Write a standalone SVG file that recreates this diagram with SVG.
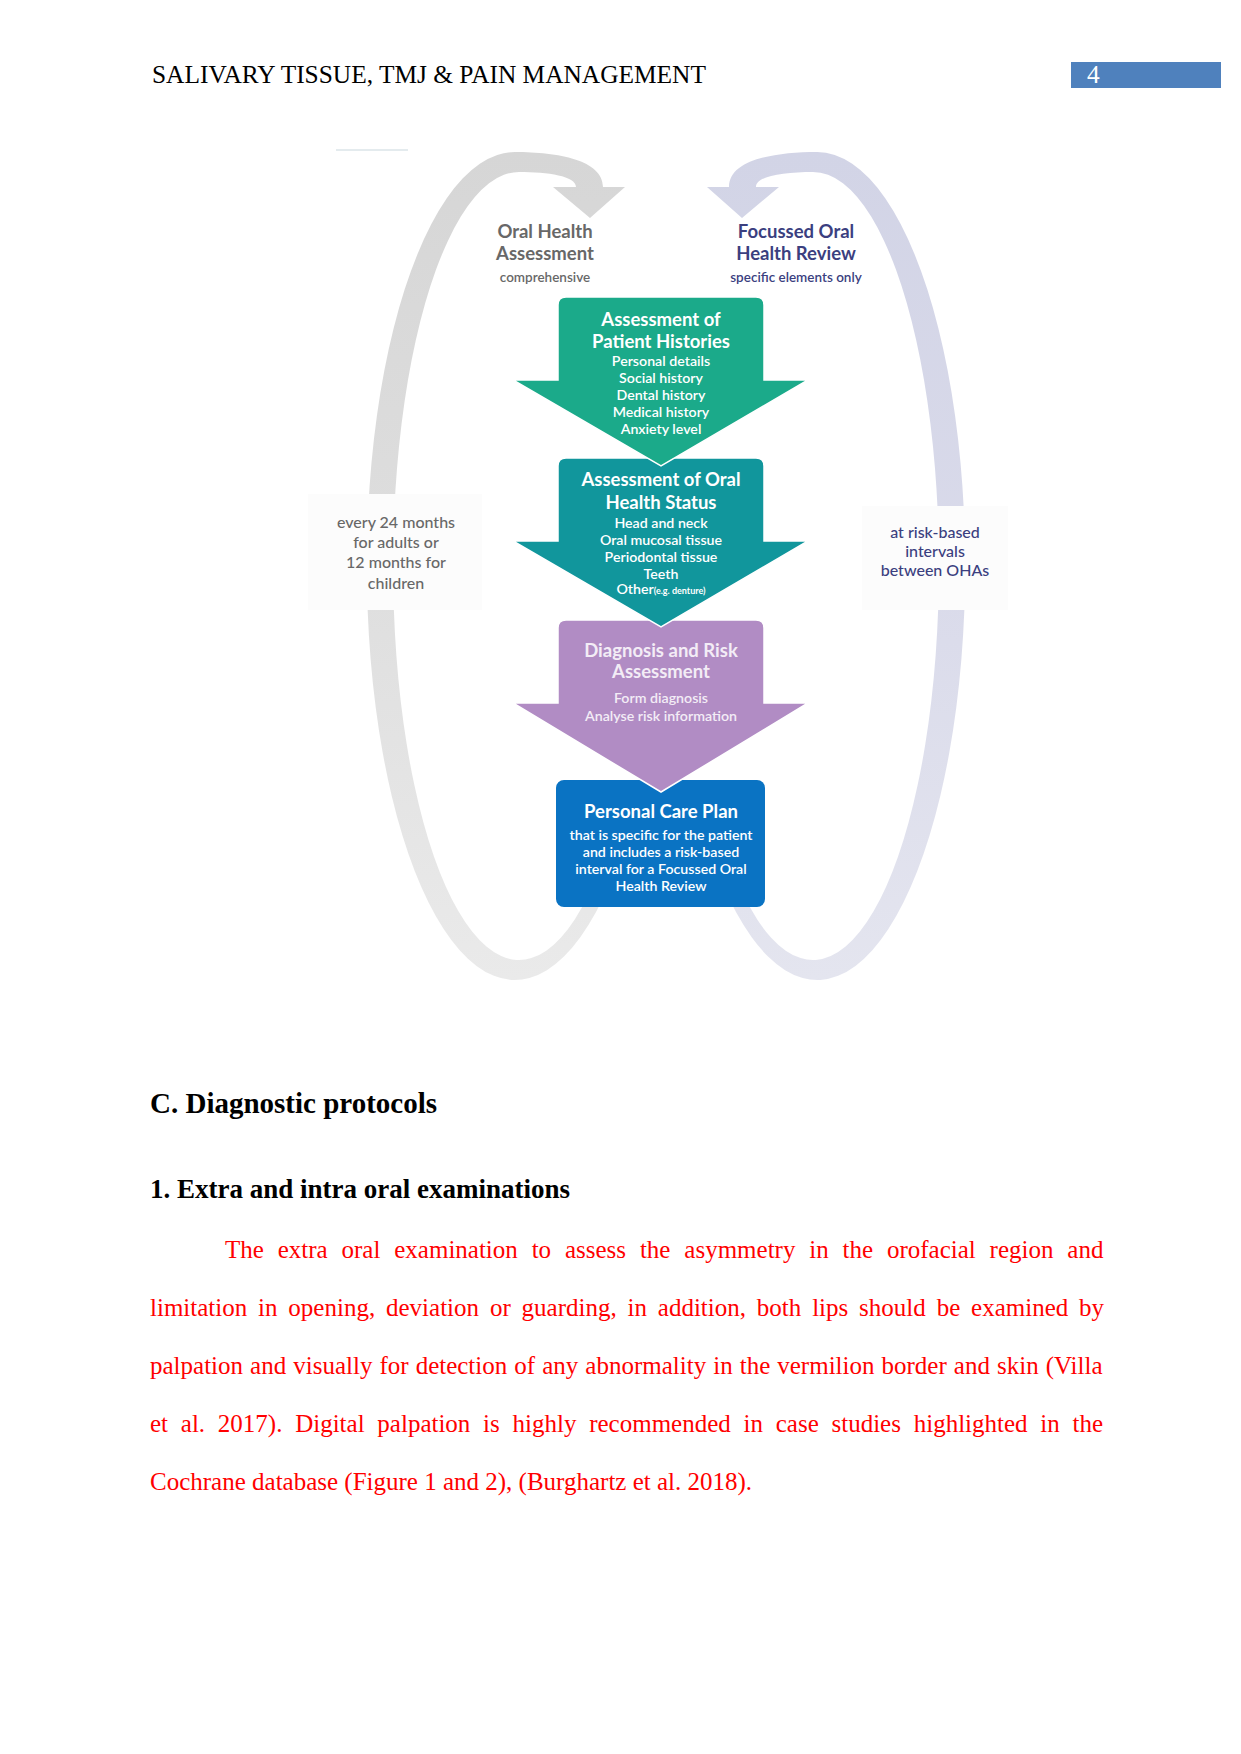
<svg xmlns="http://www.w3.org/2000/svg" xmlns:xlink="http://www.w3.org/1999/xlink" width="1241" height="1754" viewBox="0 0 1241 1754">
<style>
  .serif { font-family: "Liberation Serif", "Times New Roman", serif; }
  .hdr { font-size: 25.4px; fill: #000; }
  .h1 { font-size: 29px; font-weight: bold; fill: #000; }
  .h2 { font-size: 27px; font-weight: bold; fill: #000; }
  .body { font-size: 25px; fill: #FF0000; }
  .dg { font-family: Lato, "Liberation Sans", Arial, sans-serif; text-anchor: middle; }
  .t { font-size: 18.5px; font-weight: 700; }
  .i { font-size: 14.2px; font-weight: 600; }
  .w { fill: #ffffff; }
  .pw { fill: #F3ECF6; }
  .gray { fill: #686868; }
  .navy { fill: #3B3F7F; }
  .lbl { font-size: 16px; font-weight: 500; }
  .arrow { stroke: #ffffff; stroke-width: 1.5; stroke-linejoin: miter; }
  .bg { fill: #FCFCFC; }
</style>
<defs>
  <linearGradient id="gLeft" x1="0" y1="0" x2="0" y2="1">
    <stop offset="0" stop-color="#D6D6D6"/>
    <stop offset="0.5" stop-color="#DEDEDE"/>
    <stop offset="1" stop-color="#EAEAEA"/>
  </linearGradient>
  <linearGradient id="gRight" x1="0" y1="0" x2="0" y2="1">
    <stop offset="0" stop-color="#D2D4E6"/>
    <stop offset="0.5" stop-color="#D9DAEA"/>
    <stop offset="1" stop-color="#E4E5EF"/>
  </linearGradient>
  <path id="loop" d="M 610 883 A 148 414 0 1 1 515 152 C 558 152 603 160 603 187 L 625 187 L 590 218 L 553 187 L 576 187 C 576 176 548 172 519 172 A 126 394 0 1 0 600 868 Z"/>
</defs>

<rect x="0" y="0" width="1241" height="1754" fill="#ffffff"/>

<g id="header">
  <text class="serif hdr" x="152" y="83">SALIVARY TISSUE, TMJ &amp; PAIN MANAGEMENT</text>
  <rect x="1071" y="62" width="150" height="26" fill="#4F81BD"/>
  <text class="serif hdr" x="1087" y="83" style="fill:#ffffff">4</text>
</g>

<line x1="336" y1="150" x2="408" y2="150" stroke="#E4EBEE" stroke-width="2"/>

<g id="connectors">
  <use xlink:href="#loop" href="#loop" fill="url(#gLeft)"/>
  <use xlink:href="#loop" href="#loop" fill="url(#gRight)" transform="translate(1332,0) scale(-1,1)"/>
</g>

<g id="label-oral-health-assessment" class="dg">
  <text class="t gray" x="545" y="238">Oral Health</text>
  <text class="t gray" x="545" y="260">Assessment</text>
  <text class="gray" x="545" y="282" font-size="13.5" font-weight="600">comprehensive</text>
</g>

<g id="label-focussed-review" class="dg">
  <text class="t navy" x="796" y="238">Focussed Oral</text>
  <text class="t navy" x="796" y="260">Health Review</text>
  <text class="navy" x="796" y="282" font-size="13.5" font-weight="600">specific elements only</text>
</g>

<g id="label-left-interval" class="dg lbl">
  <rect class="bg" x="308" y="494" width="174" height="116"/>
  <text class="gray" x="396" y="528">every 24 months</text>
  <text class="gray" x="396" y="548">for adults or</text>
  <text class="gray" x="396" y="568">12 months for</text>
  <text class="gray" x="396" y="589">children</text>
</g>

<g id="label-right-interval" class="dg lbl">
  <rect class="bg" x="862" y="506" width="146" height="104"/>
  <text class="navy" x="935" y="538">at risk-based</text>
  <text class="navy" x="935" y="557">intervals</text>
  <text class="navy" x="935" y="576">between OHAs</text>
</g>

<g id="node-personal-care-plan" class="dg">
  <rect x="556" y="780" width="209" height="127" rx="8" fill="#0A73C3"/>
  <text class="t w" x="661" y="818">Personal Care Plan</text>
  <text class="i w" x="661" y="840">that is specific for the patient</text>
  <text class="i w" x="661" y="857">and includes a risk-based</text>
  <text class="i w" x="661" y="874">interval for a Focussed Oral</text>
  <text class="i w" x="661" y="891">Health Review</text>
</g>

<g id="node-diagnosis-risk" class="dg">
  <path class="arrow" fill="#B18CC4" d="M 566 620 H 756 Q 764 620 764 628 V 703 H 808 L 661 792 L 513 703 H 558 V 628 Q 558 620 566 620 Z"/>
  <text class="t pw" x="661" y="657">Diagnosis and Risk</text>
  <text class="t pw" x="661" y="678">Assessment</text>
  <text class="i pw" x="661" y="703">Form diagnosis</text>
  <text class="i pw" x="661" y="721">Analyse risk information</text>
</g>

<g id="node-oral-health-status" class="dg">
  <path class="arrow" fill="#11969C" d="M 566 458 H 756 Q 764 458 764 466 V 541 H 808 L 661 627 L 513 541 H 558 V 466 Q 558 458 566 458 Z"/>
  <text class="t w" x="661" y="486">Assessment of Oral</text>
  <text class="t w" x="661" y="509">Health Status</text>
  <text class="i w" x="661" y="528">Head and neck</text>
  <text class="i w" x="661" y="545">Oral mucosal tissue</text>
  <text class="i w" x="661" y="562">Periodontal tissue</text>
  <text class="i w" x="661" y="579">Teeth</text>
  <text class="i w" x="661" y="594">Other<tspan font-size="9" font-weight="bold">(e.g. denture)</tspan></text>
</g>

<g id="node-patient-histories" class="dg">
  <path class="arrow" fill="#1BAA8A" d="M 566 297 H 756 Q 764 297 764 305 V 380 H 808 L 661 466 L 513 380 H 558 V 305 Q 558 297 566 297 Z"/>
  <text class="t w" x="661" y="326">Assessment of</text>
  <text class="t w" x="661" y="348">Patient Histories</text>
  <text class="i w" x="661" y="366">Personal details</text>
  <text class="i w" x="661" y="383">Social history</text>
  <text class="i w" x="661" y="400">Dental history</text>
  <text class="i w" x="661" y="417">Medical history</text>
  <text class="i w" x="661" y="434">Anxiety level</text>
</g>

<g id="body-text" class="serif">
  <text class="h1" x="150" y="1113">C. Diagnostic protocols</text>
  <text class="h2" x="150" y="1198">1. Extra and intra oral examinations</text>
  <text class="body" x="225" y="1258" word-spacing="7.6">The extra oral examination to assess the asymmetry in the orofacial region and</text>
  <text class="body" x="150" y="1316" word-spacing="4.6">limitation in opening, deviation or guarding, in addition, both lips should be examined by</text>
  <text class="body" x="150" y="1374" word-spacing="0.8">palpation and visually for detection of any abnormality in the vermilion border and skin (Villa</text>
  <text class="body" x="150" y="1432" word-spacing="6.5">et al. 2017). Digital palpation is highly recommended in case studies highlighted in the</text>
  <text class="body" x="150" y="1490">Cochrane database (Figure 1 and 2), (Burghartz et al. 2018).</text>
</g>
</svg>
